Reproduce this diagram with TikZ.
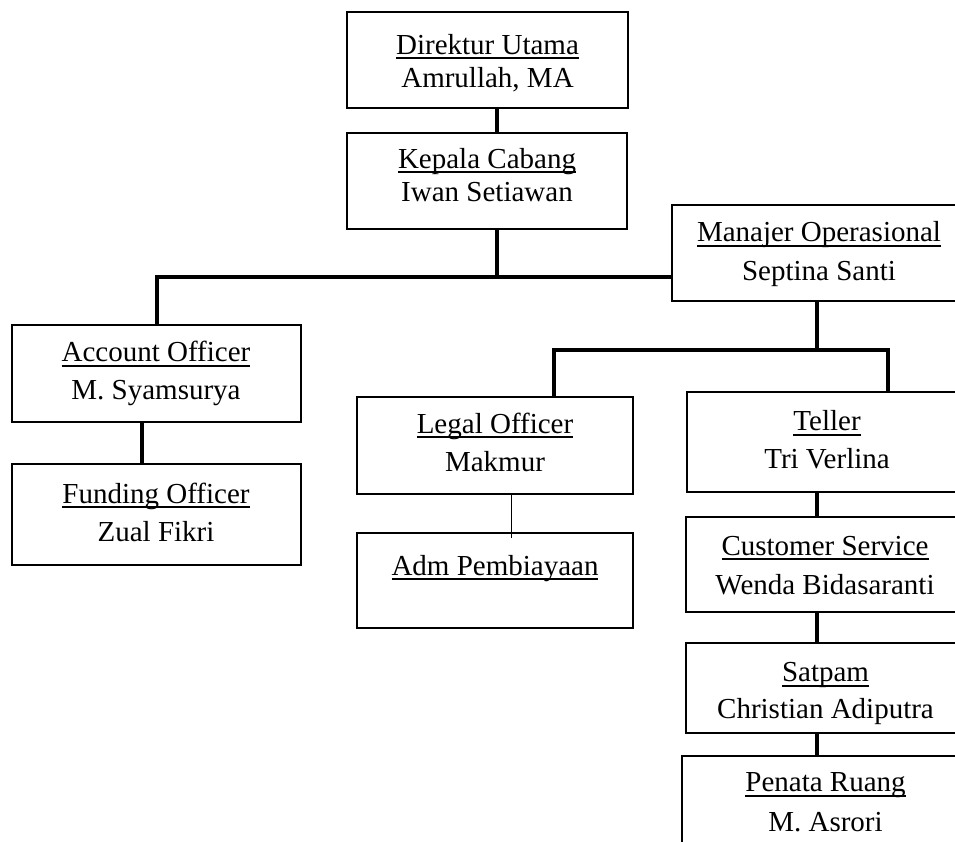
\documentclass[tikz,border=0pt]{standalone}
\usepackage{fontspec}
\setmainfont{Liberation Serif}
\usetikzlibrary{calc}
\newcommand\ulx[1]{\setbox0\hbox{#1}\rlap{\rule[-5pt]{\wd0}{1.7pt}}\box0}
\newcommand\bx[5]{%
  \node[orgbox, minimum width={(#4-#2)*1pt}, minimum height={(#5-#3)*1pt}]
    (#1) at ({(#2+#4)/2},{(#3+#5)/2}) {};}
\tikzset{
  orgbox/.style={draw=black, line width=2pt, rectangle, inner sep=0pt, fill=white},
  txt/.style={anchor=base, inner sep=0pt, font=\fontsize{29}{34}\selectfont},
  conn/.style={draw=black, line width=4pt},
  thinconn/.style={draw=black, line width=1pt},
}
\begin{document}
\begin{tikzpicture}[x=1pt, y=-1pt]
\useasboundingbox (0,0) rectangle (955,841);
\clip (0,0) rectangle (955,841);
\fill[white] (0,0) rectangle (955,841);

% boxes
\bx{dir}{347}{12}{628}{108}
\bx{kep}{347}{133}{627}{229}
\bx{man}{672}{205}{966}{301}
\bx{acc}{12}{325}{301}{422}
\bx{fund}{12}{464}{301}{565}
\bx{legal}{357}{397}{633}{494}
\bx{adm}{357}{533}{633}{628}
\bx{teller}{687}{392}{967}{492}
\bx{cs}{686}{517}{964}{612}
\bx{sat}{686}{643}{965}{733}
\bx{pen}{682}{756}{969}{900}

% junction coordinates
\coordinate (c1) at (497,0);
\coordinate (bus) at (497,277);
\coordinate (bus2) at (817,350);
\coordinate (lt) at (554,350);
\coordinate (tt) at (888,350);
\coordinate (af) at (142,0);
\coordinate (la) at (511,0);
\coordinate (rc) at (817,0);

% connectors
\draw[conn] (dir.south -| c1) -- (kep.north -| c1);
\draw[conn] (kep.south -| bus) -- (bus);
\draw[conn] (acc.north) |- (bus) -- (bus -| man.west);
\draw[conn] (man.south -| bus2) -- (bus2);
\draw[conn] (lt |- legal.north) -- (lt) -- (tt) -- (tt |- teller.north);
\draw[conn] (acc.south -| af) -- (fund.north -| af);
\draw[thinconn] (legal.south -| la) -- ($(adm.north -| la)+(0,6)$);
\draw[conn] (teller.south -| rc) -- (cs.north -| rc);
\draw[conn] (cs.south -| rc) -- (sat.north -| rc);
\draw[conn] (sat.south -| rc) -- (pen.north -| rc);

% texts
\node[txt] (t1a) at (487.5,54) {\ulx{Direktur Utama}};
\node[txt] (t1b) at (487.5,87) {Amrullah, MA};
\node[txt] (t2a) at (487,168) {\ulx{Kepala Cabang}};
\node[txt] (t2b) at (487,201) {Iwan Setiawan};
\node[txt] (t3a) at (819,241.5) {\ulx{Manajer Operasional}};
\node[txt] (t3b) at (819,280.5) {Septina Santi};
\node[txt] (t4a) at (156,361.5) {\ulx{Account Officer}};
\node[txt] (t4b) at (156,399) {M. Syamsurya};
\node[txt] (t5a) at (156,503) {\ulx{Funding Officer}};
\node[txt] (t5b) at (156,541) {Zual Fikri};
\node[txt] (t6a) at (495,433) {\ulx{Legal Officer}};
\node[txt] (t6b) at (495,471.5) {Makmur};
\node[txt] (t7a) at (495,575) {\ulx{Adm Pembiayaan}};
\node[txt] (t8a) at (827,430.5) {\ulx{Teller}};
\node[txt] (t8b) at (827,468) {Tri Verlina};
\node[txt] (t9a) at (825,555) {\ulx{Customer Service}};
\node[txt] (t9b) at (825,594) {Wenda Bidasaranti};
\node[txt] (t10a) at (825.5,681.5) {\ulx{Satpam}};
\node[txt] (t10b) at (825.5,718) {Christian Adiputra};
\node[txt] (t11a) at (825.5,791.5) {\ulx{Penata Ruang}};
\node[txt] (t11b) at (825.5,831.5) {M. Asrori};
\end{tikzpicture}
\end{document}
